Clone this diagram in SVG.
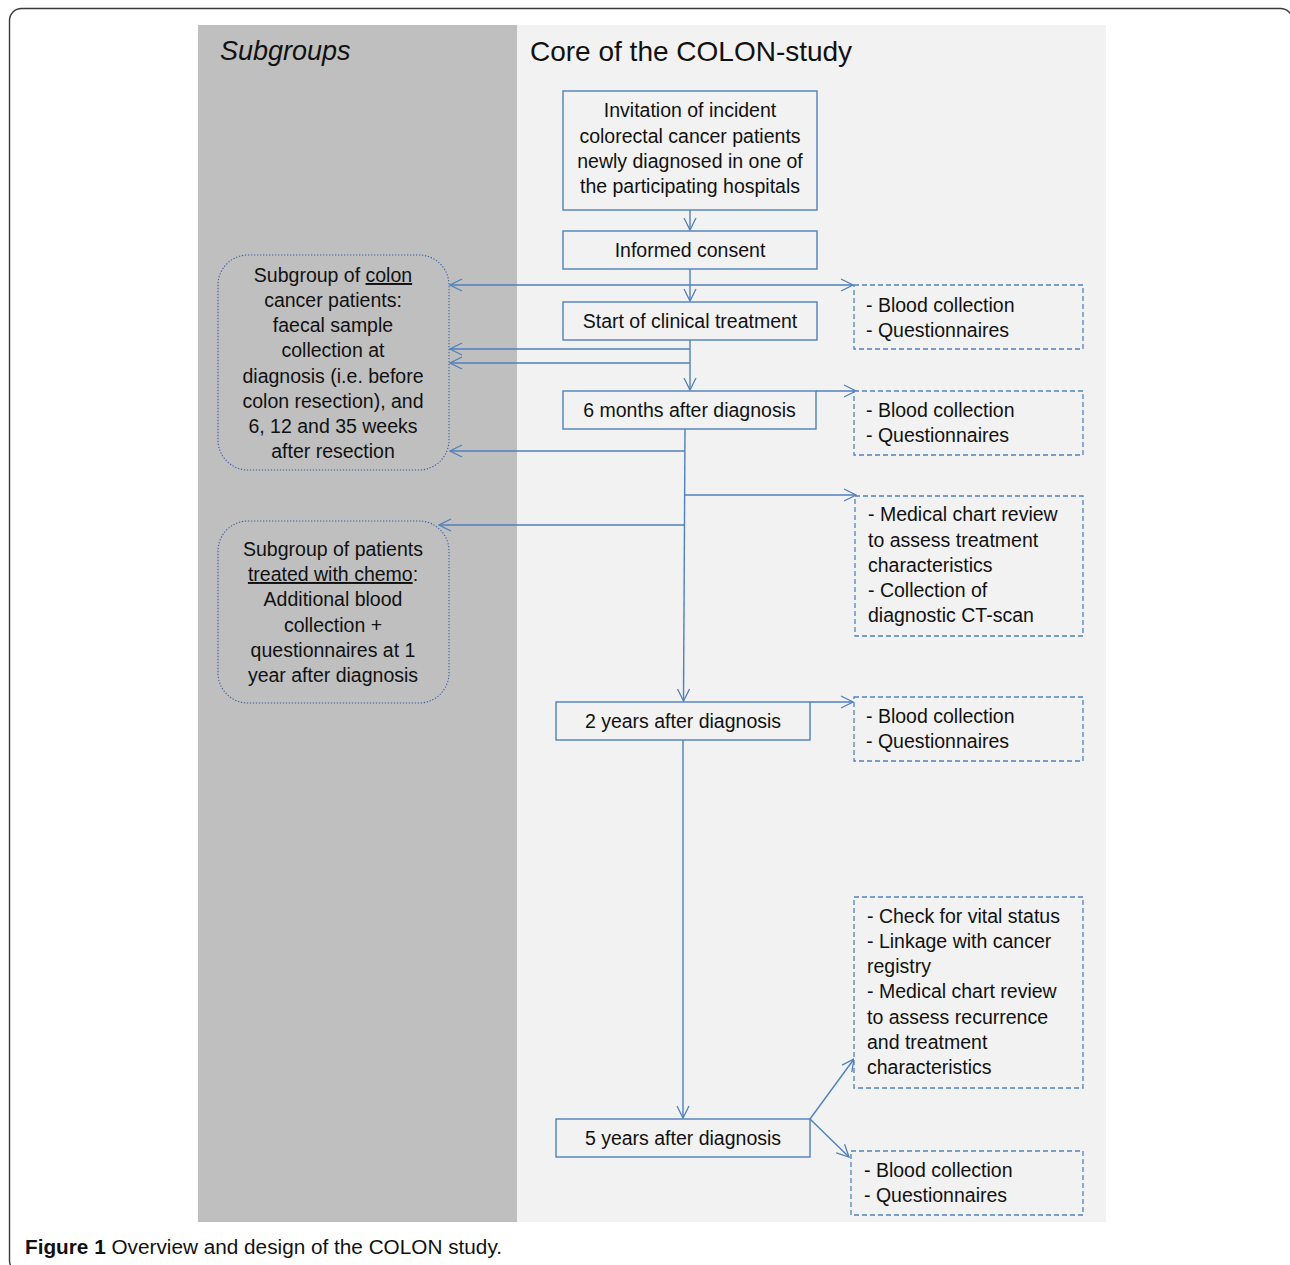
<svg xmlns="http://www.w3.org/2000/svg" width="1290" height="1265" viewBox="0 0 1290 1265">
<style>
.t{font-family:"Liberation Sans",Arial,sans-serif;font-size:19.5px;fill:#111}
.c{text-anchor:middle}
.box{fill:#f2f2f2;stroke:#4f81bd;stroke-width:1.4}
.dash{fill:#f2f2f2;stroke:#4f81bd;stroke-width:1.3;stroke-dasharray:5 3}
.dot{fill:#bfbfbf;stroke:#3f62a0;stroke-width:1.1;stroke-dasharray:1.3 1.7}
.ln{fill:none;stroke:#4f81bd;stroke-width:1.4}
.u{text-decoration:underline}
</style>
<defs>
<marker id="arr" viewBox="-13 -7 14 14" refX="0" refY="0" markerWidth="14" markerHeight="14" markerUnits="userSpaceOnUse" orient="auto-start-reverse">
<path d="M-12,-6 L0,0 L-12,6" fill="none" stroke="#4f81bd" stroke-width="1.3"/>
</marker>
</defs>
<rect x="0" y="0" width="1290" height="1265" fill="#ffffff"/>
<rect x="9.5" y="8.5" width="1283" height="1264" rx="12" ry="12" fill="none" stroke="#3a3a3a" stroke-width="1.4"/>
<g id="panels">
<rect x="198" y="25" width="319" height="1197" fill="#bfbfbf"/>
<rect x="517" y="25" width="589" height="1197" fill="#f2f2f2"/>
<text class="t" x="220" y="60" style="font-size:27px;font-style:italic">Subgroups</text>
<text class="t" x="530" y="61" style="font-size:28px">Core of the COLON-study</text>
</g>
<g id="connectors">
<line class="ln" x1="690" y1="210" x2="690" y2="230" marker-end="url(#arr)"/>
<line class="ln" x1="690" y1="269" x2="690" y2="301" marker-end="url(#arr)"/>
<line class="ln" x1="450" y1="285" x2="853" y2="285" marker-start="url(#arr)" marker-end="url(#arr)"/>
<line class="ln" x1="690" y1="340" x2="690" y2="390" marker-end="url(#arr)"/>
<polyline class="ln" points="690,349 450,349" marker-end="url(#arr)"/>
<polyline class="ln" points="690,363 450,363" marker-end="url(#arr)"/>
<line class="ln" x1="816" y1="391" x2="856" y2="391" marker-end="url(#arr)"/>
<line class="ln" x1="685" y1="429" x2="683.5" y2="701" marker-end="url(#arr)"/>
<line class="ln" x1="685" y1="451" x2="450" y2="451" marker-end="url(#arr)"/>
<line class="ln" x1="685" y1="495" x2="856" y2="495" marker-end="url(#arr)"/>
<line class="ln" x1="684.5" y1="525" x2="439" y2="525" marker-end="url(#arr)"/>
<line class="ln" x1="810" y1="702" x2="853" y2="702" marker-end="url(#arr)"/>
<line class="ln" x1="683" y1="740" x2="683" y2="1118" marker-end="url(#arr)"/>
<line class="ln" x1="810" y1="1119" x2="854" y2="1059" marker-end="url(#arr)"/>
<line class="ln" x1="810" y1="1119" x2="849" y2="1157" marker-end="url(#arr)"/>
</g>
<g id="invitation">
<rect class="box" x="563" y="91" width="254" height="119"/>
<text class="t c" x="690" y="117">Invitation of incident</text>
<text class="t c" x="690" y="143">colorectal cancer patients</text>
<text class="t c" x="690" y="168">newly diagnosed in one of</text>
<text class="t c" x="690" y="193">the participating hospitals</text>
</g>
<g id="consent">
<rect class="box" x="563" y="231" width="254" height="38"/>
<text class="t c" x="690" y="257">Informed consent</text>
</g>
<g id="start">
<rect class="box" x="563" y="302" width="254" height="38"/>
<text class="t c" x="690" y="328">Start of clinical treatment</text>
</g>
<g id="m6">
<rect class="box" x="563" y="391" width="253" height="38"/>
<text class="t c" x="689.5" y="417">6 months after diagnosis</text>
</g>
<g id="y2">
<rect class="box" x="556" y="702" width="254" height="38"/>
<text class="t c" x="683" y="728">2 years after diagnosis</text>
</g>
<g id="y5">
<rect class="box" x="556" y="1119" width="254" height="38"/>
<text class="t c" x="683" y="1145">5 years after diagnosis</text>
</g>
<g id="subA">
<rect class="dot" x="218" y="255" width="231" height="215" rx="30" ry="30"/>
<text class="t c" x="333" y="282">Subgroup of <tspan class="u">colon</tspan></text>
<text class="t c" x="333" y="307">cancer patients:</text>
<text class="t c" x="333" y="332">faecal sample</text>
<text class="t c" x="333" y="357">collection at</text>
<text class="t c" x="333" y="383">diagnosis (i.e. before</text>
<text class="t c" x="333" y="408">colon resection), and</text>
<text class="t c" x="333" y="433">6, 12 and 35 weeks</text>
<text class="t c" x="333" y="458">after resection</text>
</g>
<g id="subB">
<rect class="dot" x="218" y="521" width="231" height="182" rx="30" ry="30"/>
<text class="t c" x="333" y="556">Subgroup of patients</text>
<text class="t c" x="333" y="581"><tspan class="u">treated with chemo</tspan>:</text>
<text class="t c" x="333" y="606">Additional blood</text>
<text class="t c" x="333" y="632">collection +</text>
<text class="t c" x="333" y="657">questionnaires at 1</text>
<text class="t c" x="333" y="682">year after diagnosis</text>
</g>
<g id="d1">
<rect class="dash" x="854" y="285" width="229" height="64"/>
<text class="t" x="866" y="312">- Blood collection</text>
<text class="t" x="866" y="337">- Questionnaires</text>
</g>
<g id="d2">
<rect class="dash" x="854" y="391" width="229" height="64"/>
<text class="t" x="866" y="417">- Blood collection</text>
<text class="t" x="866" y="442">- Questionnaires</text>
</g>
<g id="d3">
<rect class="dash" x="855" y="496" width="228" height="140"/>
<text class="t" x="868" y="521">- Medical chart review</text>
<text class="t" x="868" y="547">to assess treatment</text>
<text class="t" x="868" y="572">characteristics</text>
<text class="t" x="868" y="597">- Collection of</text>
<text class="t" x="868" y="622">diagnostic CT-scan</text>
</g>
<g id="d4">
<rect class="dash" x="854" y="697" width="229" height="64"/>
<text class="t" x="866" y="723">- Blood collection</text>
<text class="t" x="866" y="748">- Questionnaires</text>
</g>
<g id="d5">
<rect class="dash" x="854" y="897" width="229" height="191"/>
<text class="t" x="867" y="923">- Check for vital status</text>
<text class="t" x="867" y="948">- Linkage with cancer</text>
<text class="t" x="867" y="973">registry</text>
<text class="t" x="867" y="998">- Medical chart review</text>
<text class="t" x="867" y="1024">to assess recurrence</text>
<text class="t" x="867" y="1049">and treatment</text>
<text class="t" x="867" y="1074">characteristics</text>
</g>
<g id="d6">
<rect class="dash" x="851" y="1151" width="232" height="64"/>
<text class="t" x="864" y="1177">- Blood collection</text>
<text class="t" x="864" y="1202">- Questionnaires</text>
</g>
<g id="caption">
<text class="t" x="25" y="1254" style="font-size:19.5px" textLength="477" lengthAdjust="spacingAndGlyphs"><tspan style="font-weight:bold">Figure 1</tspan> Overview and design of the COLON study.</text>
</g>
</svg>
